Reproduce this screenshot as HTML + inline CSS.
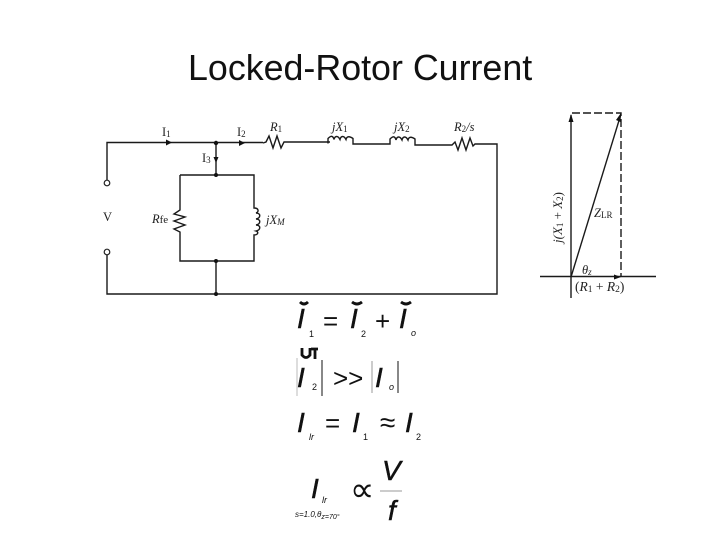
<!DOCTYPE html>
<html><head><meta charset="utf-8"><style>
html,body{margin:0;padding:0;background:#fff}
svg{display:block}
.s{font-family:"Liberation Serif",serif;fill:#222}
.i{font-style:italic}
.e{font-family:"Liberation Sans",sans-serif;fill:#111}
.w{fill:none;stroke:#1a1a1a;stroke-width:1.4}
</style></head><body>
<svg width="720" height="540" viewBox="0 0 720 540" xmlns="http://www.w3.org/2000/svg">
<rect width="720" height="540" fill="#fff"/>
<text x="188" y="80" class="e" style="font-size:35.8px">Locked-Rotor Current</text>
<!-- circuit -->
<path class="w" d="M107 180V142.500H263M263 143l3-1 3-6 4 12 4-12 4 12 3-6h46M287 143.500M328 143.500v-5c3-3 5-3 6 1 1-4 4-4 6 0 1-4 4-4 6 0 1-4 4-3 7-1v5.500h37v-5c3-3 5-3 6 1 1-4 4-4 6 0 1-4 4-4 6 0 1-4 4-3 7-1v6h37l3-3 3 8 4-12 4 12 4-12 3 8 2-2h22V294H107V255"/>
<path class="w" d="M216 143V175M180 175H254V208c5 0 5 4 2 5 5 0 5 5 0 6 5 0 5 5 0 6 5 0 5 5 0 6 3 1 2 4-2 4V261H180V232l-6-3 11-4-11-4 11-4-11-3 6-4V175M216 261V294"/>
<circle cx="107" cy="183" r="2.800" fill="#fff" stroke="#222" stroke-width="1.200"/>
<circle cx="107" cy="252" r="2.800" fill="#fff" stroke="#222" stroke-width="1.200"/>
<g fill="#111">
<circle cx="216" cy="143" r="2.200"/><circle cx="216" cy="175" r="2"/><circle cx="216" cy="261" r="2"/><circle cx="216" cy="294" r="2"/>
<path d="M166 139.500l6 3-6 3zM239 140l6 3-6 3zM213.500 157l2.500 6 2.500-6z"/>
</g>
<g class="s" font-size="12.500">
<text x="162" y="136">I<tspan font-size="9" dy="1">1</tspan></text>
<text x="237" y="136">I<tspan font-size="9" dy="1">2</tspan></text>
<text x="202" y="162">I<tspan font-size="9" dy="1">3</tspan></text>
<text x="103" y="221">V</text>
<text x="270" y="131" class="i">R<tspan font-size="9" dy="1" font-style="normal">1</tspan></text>
<text x="332" y="131" class="i">jX<tspan font-size="9" dy="1" font-style="normal">1</tspan></text>
<text x="394" y="131" class="i">jX<tspan font-size="9" dy="1" font-style="normal">2</tspan></text>
<text x="454" y="131" class="i">R<tspan font-size="9" dy="1" font-style="normal">2</tspan><tspan dy="-1">/s</tspan></text>
<text x="152" y="223" class="i">R<tspan font-size="11" font-style="normal">fe</tspan></text>
<text x="266" y="224" class="i">jX<tspan font-size="9" dy="1">M</tspan></text>
</g>
<!-- phasor -->
<path class="w" d="M571 115V298M540 276.500H656"/>
<path class="w" d="M571 277L621 114" stroke-width="1.200"/>
<path class="w" d="M572 113H621V277" stroke-dasharray="8 3" stroke-width="1.600"/>
<path fill="#111" d="M571 114l-2.500 8h5zM621 113l-5 7 4.500 2zM621 277l-7-2.500v5z"/>
<g class="s" font-size="12.500">
<text transform="translate(562 243) rotate(-90)" class="i" font-size="13">j(X<tspan font-size="9" dy="1" font-style="normal">1</tspan><tspan dy="-1" font-style="normal"> + </tspan>X<tspan font-size="9" dy="1" font-style="normal">2</tspan><tspan dy="-1" font-style="normal">)</tspan></text>
<text x="594" y="217" class="i">Z<tspan font-size="9" dy="1" font-style="normal">LR</tspan></text>
<text x="582" y="274" class="i">θ<tspan font-size="9" dy="1">z</tspan></text>
<text x="575" y="291" class="i" font-size="13.500"><tspan font-style="normal">(</tspan>R<tspan font-size="9.500" dy="1" font-style="normal">1</tspan><tspan dy="-1" font-style="normal"> + </tspan>R<tspan font-size="9.500" dy="1" font-style="normal">2</tspan><tspan dy="-1" font-style="normal">)</tspan></text>
</g>
<!-- equations -->
<g class="e">
<g font-size="28" font-style="italic" stroke="#111" stroke-width="0.500">
<text x="297" y="328">I</text><text x="350" y="328">I</text><text x="399" y="328">I</text>
<text x="297" y="387">I</text><text x="375" y="387">I</text>
<text x="297" y="432">I</text><text x="352" y="432">I</text><text x="405" y="432">I</text>
<text x="311" y="498">I</text>
<text x="382" y="480">V</text>
<text x="388" y="520">f</text>
</g>
<g font-size="9">
<text x="309" y="337">1</text><text x="361" y="337">2</text><text x="411" y="336" font-style="italic">o</text>
<text x="312" y="390">2</text><text x="389" y="390" font-style="italic">o</text>
<text x="309" y="440" font-style="italic">lr</text><text x="363" y="440">1</text><text x="416" y="440">2</text>
<text x="322" y="503" font-style="italic">lr</text>
<text x="295" y="517" font-size="8" font-style="italic">s=1.0,θ<tspan font-size="7" dy="2">z=70°</tspan></text>
</g>
<g font-size="26" fill="#111">
<text x="323" y="330">=</text><text x="375" y="330">+</text>
<text x="333" y="387">&gt;&gt;</text>
<text x="325" y="432">=</text><text x="380" y="432" font-size="28">≈</text>
<text x="350" y="501" font-size="34">∝</text>
</g>
</g>
<g fill="none" stroke="#111">
<path d="M300 302q4 4 8 0M352 302q5 4 10 0M401 302q5 4 10 0" stroke-width="2.800"/>
<path d="M302 348v7q4 5 8 0v-7M311 349h7M315 349v10" stroke-width="2.800"/>
<path d="M297 358V396" stroke="#bbb"/>
<path d="M322 360V396" stroke-width="1"/>
<path d="M372 361V393" stroke="#999"/>
<path d="M398 361V393" stroke-width="1"/>
<path d="M380 491H402" stroke="#999"/>
</g>
</svg>
</body></html>
